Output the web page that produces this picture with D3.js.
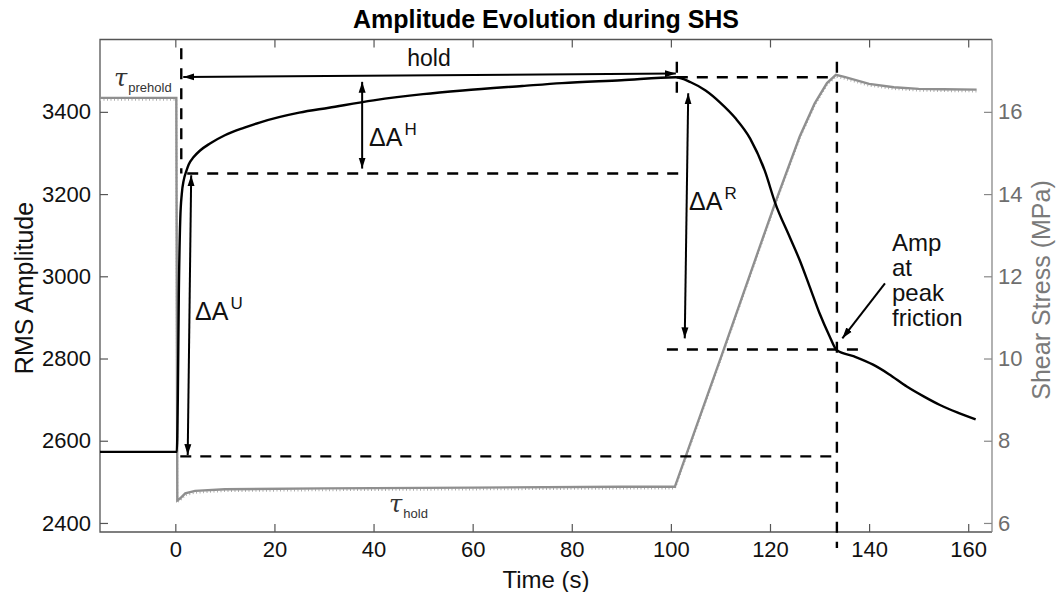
<!DOCTYPE html>
<html>
<head>
<meta charset="utf-8">
<script src="https://cdn.jsdelivr.net/npm/d3@7"></script>
<style>
  body { margin: 0; background: #fff; }
  text { font-family: "Liberation Sans", Arial, Helvetica, sans-serif; }
</style>
</head>
<body>
<script>
// amplitude (left axis) vs time
var ampTime = [-15.2, 0.3, 0.5, 0.7, 1.0, 1.3, 1.7, 2.2, 2.7, 3.7, 5, 7, 10, 13.8, 17, 25, 31, 40, 50, 58, 70, 78, 90, 101,
               104, 107, 110, 113, 116, 119, 121, 124, 126, 128, 130, 132, 133.5, 137, 140.8, 144, 147.6, 151, 154.3, 158, 161.5];
var ampValues = [2573, 2573, 2700, 2950, 3140, 3200, 3234, 3255, 3272, 3290, 3306, 3323, 3343, 3361, 3374, 3398, 3410, 3428, 3443, 3452, 3463, 3470, 3477, 3484,
                 3472, 3452, 3422, 3385, 3335, 3255, 3180, 3095, 3039, 2975, 2910, 2855, 2820, 2805, 2785, 2762, 2732, 2708, 2687, 2668, 2652];

// shear stress (right axis) vs time
var stressTime = [-15.2, 0.2, 0.4, 1, 2, 4, 10, 30, 60, 90, 100.8, 110.6, 121, 126, 129, 131.5, 133.3, 135, 140, 145, 150, 155, 161.7];
var stressValues = [16.34, 16.34, 6.55, 6.6, 6.72, 6.78, 6.82, 6.84, 6.86, 6.88, 6.88, 10.2, 13.77, 15.4, 16.2, 16.7, 16.9, 16.85, 16.68, 16.6, 16.56, 16.55, 16.54];

var xTicks = [0, 20, 40, 60, 80, 100, 120, 140, 160];
var ampTicks = [2400, 2600, 2800, 3000, 3200, 3400];
var stressTicks = [6, 8, 10, 12, 14, 16];

// guide lines in data units: [t1, amp1, t2, amp2]
var dashedGuides = [
  [1.2, 3555, 1.2, 3250],
  [2.4, 3250, 103.2, 3250],
  [101.2, 3522, 101.2, 3430],
  [101.2, 3484, 133.5, 3484],
  [133.5, 3522, 133.5, 2339],
  [99.2, 2822, 139.5, 2822],
  [1.0, 2562, 132.5, 2562]
];
// arrows in data units: [t1, amp1, t2, amp2, doubleHeaded]
var arrowGuides = [
  [1.6, 3485, 101.0, 3493, true],
  [37.7, 3473, 37.7, 3262, true],
  [3.2, 3246, 2.5, 2565, true],
  [103.5, 3445, 102.8, 2849, true],
  [143.2, 2983, 134.6, 2849, false]
];

var width = 1057, height = 592;
var plotLeft = 100, plotRight = 992, plotTop = 39.5, plotBottom = 532;

var svg = d3.select("body").append("svg")
    .attr("width", width)
    .attr("height", height);

var x = d3.scaleLinear().domain([-15.2, 164.8]).range([plotLeft, plotRight]);
var yAmp = d3.scaleLinear().domain([2378, 3576]).range([plotBottom, plotTop]);
var yStress = d3.scaleLinear().domain([5.78, 17.76]).range([plotBottom, plotTop]);

// title
svg.append("text")
    .attr("x", (plotLeft + plotRight) / 2).attr("y", 28)
    .attr("text-anchor", "middle")
    .style("font-size", "25px").style("font-weight", "bold")
    .text("Amplitude Evolution during SHS");

// axes
function styleAxis(g, col) {
  g.select(".domain").remove();
  g.selectAll(".tick line").attr("stroke", col).attr("stroke-width", 1.2);
  g.selectAll(".tick text").style("font-size", "22px").attr("font-family", null);
}

var gx = svg.append("g").attr("transform", "translate(0," + plotBottom + ")")
    .call(d3.axisBottom(x).tickValues(xTicks).tickFormat(d3.format("d")).tickSizeInner(-8).tickSizeOuter(0).tickPadding(9.5));
styleAxis(gx, "#555");
gx.selectAll(".tick text").attr("fill", "#111");

var gxTop = svg.append("g").attr("transform", "translate(0," + plotTop + ")")
    .call(d3.axisTop(x).tickValues(xTicks).tickSizeInner(-8).tickSizeOuter(0).tickFormat(""));
styleAxis(gxTop, "#555");

var gy = svg.append("g").attr("transform", "translate(" + plotLeft + ",0)")
    .call(d3.axisLeft(yAmp).tickValues(ampTicks).tickFormat(d3.format("d")).tickSizeInner(-8).tickSizeOuter(0).tickPadding(9));
styleAxis(gy, "#555");
gy.selectAll(".tick text").attr("fill", "#111");

var gyR = svg.append("g").attr("transform", "translate(" + plotRight + ",0)")
    .call(d3.axisRight(yStress).tickValues(stressTicks).tickFormat(d3.format("d")).tickSizeInner(-8).tickSizeOuter(0).tickPadding(6));
styleAxis(gyR, "#888");
gyR.selectAll(".tick text").attr("fill", "#6e6e6e");

// frame
svg.append("path")
    .attr("d", "M" + plotRight + "," + plotTop + "H" + plotLeft + "V" + plotBottom + "H" + plotRight)
    .attr("fill", "none").attr("stroke", "#555").attr("stroke-width", 1.3);
svg.append("line")
    .attr("x1", plotRight).attr("x2", plotRight).attr("y1", plotTop).attr("y2", plotBottom)
    .attr("stroke", "#888").attr("stroke-width", 1.3);

// axis labels
svg.append("text")
    .attr("transform", "translate(33,288) rotate(-90)")
    .attr("text-anchor", "middle")
    .style("font-size", "25px").attr("fill", "#111")
    .text("RMS Amplitude");
svg.append("text")
    .attr("transform", "translate(1050,290) rotate(-90)")
    .attr("text-anchor", "middle")
    .style("font-size", "25px").attr("fill", "#7a7a7a")
    .text("Shear Stress (MPa)");
svg.append("text")
    .attr("x", (plotLeft + plotRight) / 2).attr("y", 588)
    .attr("text-anchor", "middle")
    .style("font-size", "24px").attr("fill", "#111")
    .text("Time (s)");

// series
var stressLine = d3.line()
    .x(function(d, i) { return x(stressTime[i]); })
    .y(function(d) { return yStress(d); });
var ampLine = d3.line()
    .curve(d3.curveMonotoneX)
    .x(function(d, i) { return x(ampTime[i]); })
    .y(function(d) { return yAmp(d); });

svg.append("path")
    .attr("d", stressLine(stressValues))
    .attr("fill", "none").attr("stroke", "#b0b0b0").attr("stroke-width", 2)
    .attr("stroke-dasharray", "1,2.5")
    .attr("transform", "translate(0,1.8)");
svg.append("path")
    .attr("d", stressLine(stressValues))
    .attr("fill", "none").attr("stroke", "#8f8f8f").attr("stroke-width", 2.4);

svg.append("path")
    .attr("d", ampLine(ampValues))
    .attr("fill", "none").attr("stroke", "#000").attr("stroke-width", 2.4);

// guides
svg.selectAll(".guide")
    .data(dashedGuides)
    .enter()
    .append("line")
    .attr("class", "guide")
    .attr("x1", function(d) { return x(d[0]); })
    .attr("y1", function(d) { return yAmp(d[1]); })
    .attr("x2", function(d) { return x(d[2]); })
    .attr("y2", function(d) { return yAmp(d[3]); })
    .attr("stroke", "#000").attr("stroke-width", 2.4)
    .attr("stroke-dasharray", "11,9");

svg.append("defs").append("marker")
    .attr("id", "head")
    .attr("markerUnits", "userSpaceOnUse")
    .attr("markerWidth", 12).attr("markerHeight", 8)
    .attr("refX", 11).attr("refY", 4)
    .attr("orient", "auto-start-reverse")
    .append("path")
    .attr("d", "M0,0.5 L11,4 L0,7.5 z")
    .attr("fill", "#000");

svg.selectAll(".arrow")
    .data(arrowGuides)
    .enter()
    .append("line")
    .attr("class", "arrow")
    .attr("x1", function(d) { return x(d[0]); })
    .attr("y1", function(d) { return yAmp(d[1]); })
    .attr("x2", function(d) { return x(d[2]); })
    .attr("y2", function(d) { return yAmp(d[3]); })
    .attr("stroke", "#000").attr("stroke-width", 2)
    .attr("marker-end", "url(#head)")
    .attr("marker-start", function(d) { return d[4] ? "url(#head)" : null; });

// annotation text
function deltaLabel(px, py, sup) {
  var t = svg.append("text").attr("x", px).attr("y", py)
      .style("font-size", "25px").attr("fill", "#111");
  t.append("tspan").text("\u0394A");
  t.append("tspan").attr("dy", -11).attr("dx", 2).style("font-size", "17px").text(sup);
}
deltaLabel(369, 146, "H");
deltaLabel(195, 320, "U");
deltaLabel(689, 210, "R");

svg.append("text")
    .attr("x", 429).attr("y", 66)
    .attr("text-anchor", "middle")
    .style("font-size", "23px").attr("fill", "#111")
    .text("hold");

var ampText = svg.append("text").attr("x", 892).attr("y", 251)
    .style("font-size", "24px").attr("fill", "#111");
["Amp", "at", "peak", "friction"].forEach(function(s, i) {
  ampText.append("tspan").attr("x", 892).attr("dy", i === 0 ? 0 : 25).text(s);
});

function tauLabel(px, py, sub) {
  var t = svg.append("text").attr("x", px).attr("y", py).attr("fill", "#333");
  t.append("tspan").style("font-size", "24px").style("font-style", "italic")
      .attr("font-family", "DejaVu Serif, serif").text("\u03C4");
  t.append("tspan").attr("dy", 6).attr("dx", 1).style("font-size", "13px").text(sub);
}
tauLabel(114, 86, "prehold");
tauLabel(389, 512, "hold");
</script>
</body>
</html>
